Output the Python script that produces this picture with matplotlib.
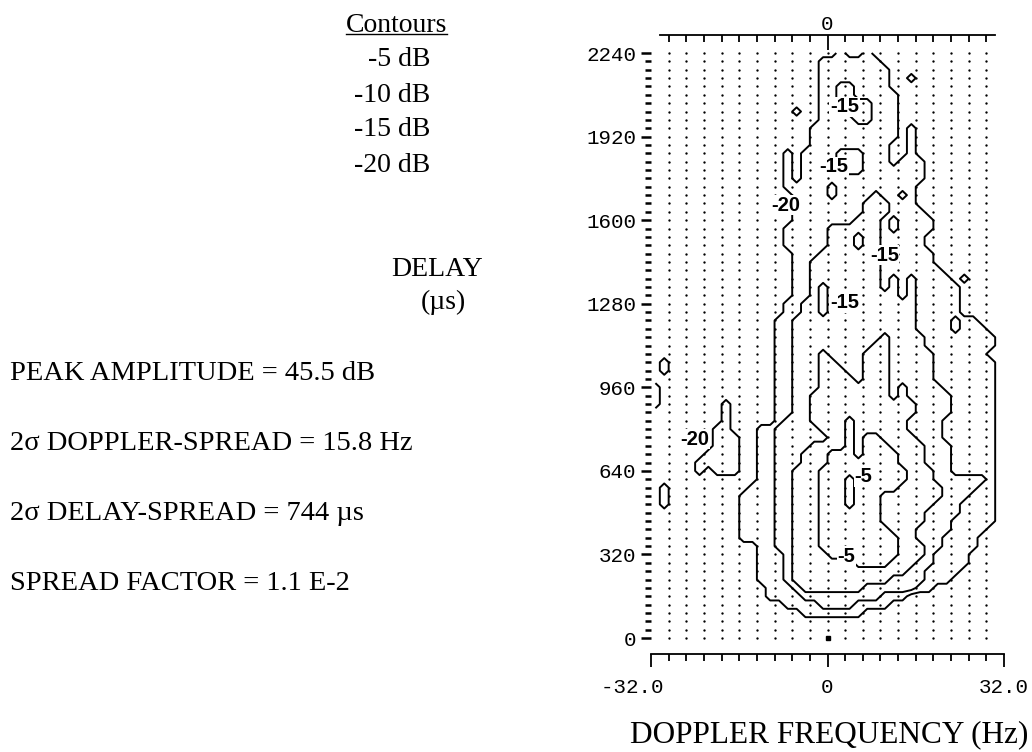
"""
    Scattering function contour plot (delay vs. doppler)
"""
import numpy as np
import matplotlib
matplotlib.use("Agg")
from matplotlib import pyplot as plt
from matplotlib.lines import Line2D

LEVELS = [-20, -15, -10, -5]  # dB relative to peak
# band code of a bin -> representative level (dB)
BAND_DB = {'.': -22.5, '1': -17.5, '2': -12.5, '3': -7.5, '4': -2.5}

DOPPLER_START = -31.2  # Hz, centre of first bin
DOPPLER_STEP = 1.6     # Hz
DELAY_STEP = 32        # us

# band of every bin, one string per delay bin (2240 us on top, 0 us at the bottom),
# 40 doppler bins written in groups of ten
BANDS = [
    ".......... .......... .1..1..... ..........",
    ".......... .........1 111111.... ..........",
    ".......... .........1 1111111... ..........",
    ".......... .........1 1111111..1 ..........",
    ".......... .........1 1221111... ..........",
    ".......... .........1 12211111.. ..........",
    ".......... .........1 12222111.. ..........",
    ".......... ......1..1 12222111.. ..........",
    ".......... .........1 11122111.. ..........",
    ".......... ........11 11111111.1 ..........",
    ".......... ........11 11111111.1 ..........",
    ".......... ........11 1111111..1 ..........",
    ".......... .....1.111 1222111..1 ..........",
    ".......... .....1.111 1222111.11 1.........",
    ".......... .....1.111 1222111111 1.........",
    ".......... .....1.111 1111111111 1.........",
    ".......... .....11111 2111111111 ..........",
    ".......... ......1111 2111121121 ..........",
    ".......... ......1111 1111222111 ..........",
    ".......... ......1111 1111222111 1.........",
    ".......... ......1111 1112221211 11........",
    ".......... .....11111 2222221211 11........",
    ".......... .....11111 2221221111 1.........",
    ".......... .....11111 2221221111 1.........",
    ".......... ......1112 2222221111 11........",
    ".......... ......1122 2222221111 11........",
    ".......... ......1122 2222221111 111.......",
    ".......... ......1122 2222221212 1111.1....",
    ".......... ......1121 2222221212 11111.....",
    ".......... ......1121 2222222212 11111.....",
    ".......... .....11221 2222222222 11111.....",
    ".......... .....11221 2222222222 11111.....",
    ".......... ....112222 2222222222 1111211...",
    ".......... ....112222 2222222222 11112111..",
    ".......... ....112222 2222223222 211111111.",
    ".......... ....112222 2222233222 211111111.",
    ".......... ....112223 2222333222 22111111..",
    ".1........ ....112223 3222333222 221111111.",
    ".1........ ....112223 3322333222 221111111.",
    ".......... ....112223 3332333222 221111111.",
    "1......... ....112223 3333333232 222111111.",
    "1......... ....112233 3333333232 222211111.",
    "1.......1. ....112233 3333333333 222211111.",
    "........1. ....112233 3333333333 222211111.",
    "........1. ....122233 3343333332 222111111.",
    ".......11. ..11222223 3343333332 222111111.",
    ".......111 ..11222222 3343443333 222111111.",
    ".......111 ..11222233 3343444333 322211111.",
    "......1111 ..11222333 4443444433 322211111.",
    ".....11111 ..11222333 4444444433 322211111.",
    ".....1.111 ..11223334 4444444443 332211111.",
    ".......... ..11223334 4434444443 332222221.",
    ".1........ .111223334 4434444433 333222211.",
    ".1........ 1111223334 4434443333 333222111.",
    ".1........ 1111223334 4434443333 332221111.",
    ".......... 1111223334 4444443333 322221111.",
    ".......... 1111223334 4444443333 322211111.",
    ".......... 1111223334 4444444333 22221111..",
    ".......... 1111223334 4444444433 2221111...",
    ".......... ..11223334 4444444433 3221111...",
    ".......... ..11123333 4444444433 321111....",
    ".......... ..11123333 3334444333 221111....",
    ".......... ..11123333 3333333332 21111.....",
    ".......... ..11123333 3333333222 2111......",
    ".......... ...1112333 3333222222 11........",
    ".......... ...1111222 222222111. ..........",
    ".......... .....11112 2221111... ..........",
    ".......... .......111 1111...... ..........",
    ".......... .......... .......... ..........",
    ".......... .......... .......... ..........",
    ".......... .......... .......... ..........",
]

PEAK_AMPLITUDE = 45.5   # dB
DOPPLER_SPREAD = 15.8   # Hz
DELAY_SPREAD = 744      # us
SPREAD_FACTOR = "1.1 E-2"

# where the level numbers sit on the lines: (level, Hz, us)
LABEL_SPOTS = [(-20, -7.5, 1658), (-20, -24.1, 762),
               (-15, 3.1, 2034), (-15, 1.2, 1805), (-15, 10.3, 1466), (-15, 3.1, 1284),
               (-5, 6.5, 617), (-5, 3.4, 314)]

UPSAMPLE = 1

SERIF = "Liberation Serif"
MONO = "Liberation Mono"
SANS = "Liberation Sans"
W, H = 1032, 752


def band_grid(rows):
    rows = [r.replace(" ", "").ljust(40, ".")[:40] for r in rows[::-1]]
    return np.array([[BAND_DB[c] for c in r] for r in rows])


def blocky(grid, x, y, k):
    # repeat each bin k times so the lines run along the bin edges
    z = np.kron(grid, np.ones((k, k)))
    sub = (np.arange(k) + 0.5) / k - 0.5
    xs = (x[:, None] + sub * DOPPLER_STEP).ravel()
    ys = (y[:, None] + sub * DELAY_STEP).ravel()
    return xs, ys, z


def fig_xy(x, y):
    return x / W, 1 - y / H


def main():
    grid = band_grid(BANDS)
    n_delay, n_dopp = grid.shape
    doppler = DOPPLER_START + DOPPLER_STEP * np.arange(n_dopp)
    delay = DELAY_STEP * np.arange(n_delay)

    fig = plt.figure(figsize=(W / 100, H / 100), dpi=100)
    ax = fig.add_axes([651 / W, 98 / H, 353 / W, 619 / H])
    ax.set_xlim(-32, 32)
    ax.set_ylim(-61, 2309)

    # reference dots every 3.2 Hz / 32 us
    dot_f = 3.2 * np.arange(-9, 10)
    ff, dd = np.meshgrid(dot_f, delay)
    ax.plot(ff.ravel(), dd.ravel(), ls="none", marker="o", ms=1.7, mew=0, color="k")
    ax.plot([0], [0], ls="none", marker="s", ms=3.2, color="k")

    xs, ys, z = blocky(grid, doppler, delay, UPSAMPLE)
    ax.contour(xs, ys, z, levels=LEVELS, colors="k", linewidths=1.4, linestyles="solid")

    for level, f, d in LABEL_SPOTS:
        ax.text(f, d, f"{level}", ha="center", va="center", fontsize=14.5, family=SANS,
                fontweight="bold",
                bbox=dict(facecolor="white", edgecolor="none", pad=0.5), zorder=5)

    for side in ("left", "right", "top"):
        ax.spines[side].set_visible(False)
    ax.spines["bottom"].set_linewidth(1.3)
    # the left label hangs off to the left of its tick
    ax.set_xticks([-32, 0, 32], ["-32.0   ", "0", "32.0"])
    ax.set_xticks(dot_f, minor=True)
    ax.tick_params(axis="x", which="major", direction="out", length=9, width=1.3,
                   pad=8, labelsize=15)
    ax.tick_params(axis="x", which="minor", direction="out", length=5, width=1.3)
    ax.set_yticks(np.arange(0, 2241, 320))
    ax.set_yticks(delay, minor=True)
    ax.tick_params(axis="y", which="major", direction="out", length=7.5, width=1.8,
                   pad=3, labelsize=15)
    ax.tick_params(axis="y", which="minor", direction="out", length=4.5, width=1.8)

    top = ax.secondary_xaxis("top")
    top.set_xticks([0], ["0"])
    top.set_xticks(dot_f, minor=True)
    top.tick_params(which="major", direction="in", length=11, width=1.3, pad=1, labelsize=15)
    top.tick_params(which="minor", direction="in", length=5, width=1.3)
    top.spines["top"].set_bounds(-30.4, 30.4)
    top.spines["top"].set_linewidth(1.3)

    for lab in ax.get_xticklabels() + ax.get_yticklabels() + top.get_xticklabels():
        lab.set_family(MONO)

    # key for the contour levels
    fig.text(*fig_xy(396.5, 31.5), "Contours", ha="center", va="baseline",
             fontsize=20, family=SERIF)
    fig.canvas.draw()
    bb = fig.texts[0].get_window_extent()
    fig.add_artist(Line2D([bb.x0 / W, bb.x1 / W], [(H - 34) / H] * 2, color="k", lw=1.0))
    for k, level in enumerate(sorted(LEVELS, reverse=True)):
        fig.text(*fig_xy(430, 66.5 + 35 * k), f"{level} dB", ha="right", va="baseline",
                 fontsize=20, family=SERIF)

    fig.text(*fig_xy(437, 276.5), "DELAY", ha="center", va="baseline", fontsize=20, family=SERIF)
    fig.text(*fig_xy(443, 309), "(\u00b5s)", ha="center", va="baseline", fontsize=20, family=SERIF)

    stats = [f"PEAK AMPLITUDE = {PEAK_AMPLITUDE} dB",
             f"2\u03c3 DOPPLER-SPREAD = {DOPPLER_SPREAD} Hz",
             f"2\u03c3 DELAY-SPREAD = {DELAY_SPREAD} \u00b5s",
             f"SPREAD FACTOR = {SPREAD_FACTOR}"]
    for k, line in enumerate(stats):
        fig.text(*fig_xy(10, 380.5 + 70 * k), line, ha="left", va="baseline",
                 fontsize=20.5, family=SERIF)

    fig.text(*fig_xy(829.5, 742), "DOPPLER FREQUENCY (Hz)", ha="center", va="baseline",
             fontsize=22.5, family=SERIF)

    fig.savefig("out.png", dpi=100)
    plt.close(fig)


if __name__ == "__main__":
    main()
